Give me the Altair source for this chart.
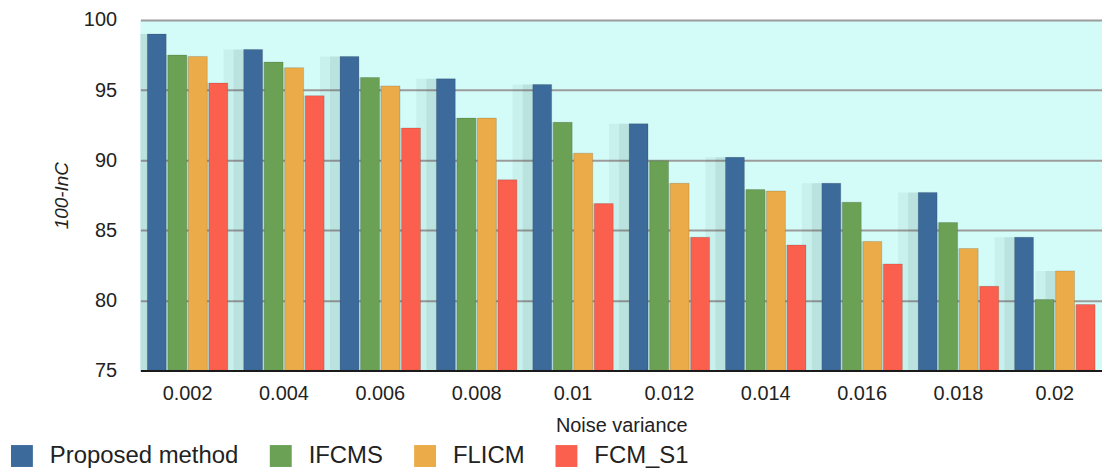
import altair as alt
import pandas as pd

variances = ["0.002", "0.004", "0.006", "0.008", "0.01", "0.012", "0.014", "0.016", "0.018", "0.02"]
methods = ["Proposed method", "IFCMS", "FLICM", "FCM_S1"]
proposed = [99.0, 97.9, 97.4, 95.8, 95.4, 92.6, 90.2, 88.35, 87.7, 84.5]
ifcms = [97.5, 97.0, 95.9, 93.0, 92.7, 89.95, 87.9, 87.0, 85.55, 80.05]
flicm = [97.4, 96.6, 95.3, 93.0, 90.5, 88.35, 87.8, 84.2, 83.7, 82.1]
fcm_s1 = [95.5, 94.6, 92.3, 88.6, 86.9, 84.5, 83.95, 82.6, 81.0, 79.7]
colors = ["#3c6a9b", "#6aa155", "#eaab48", "#fb5f4d"]
y_ticks = [75, 80, 85, 90, 95, 100]

rows = []
for m, vals in zip(methods, [proposed, ifcms, flicm, fcm_s1]):
    for v, val in zip(variances, vals):
        rows.append({"variance": v, "method": m, "value": val})
df = pd.DataFrame(rows)

FONT = "Liberation Sans"

x_enc = alt.X(
    "variance:N",
    sort=variances,
    scale=alt.Scale(paddingInner=0.165, paddingOuter=0.072),
    axis=alt.Axis(
        title="Noise variance",
        labelAngle=0,
        labelFontSize=20,
        labelPadding=13,
        labelColor="#222222",
        ticks=False,
        domain=True,
        domainColor="#1a1a1a",
        domainWidth=2,
        titleFontSize=20,
        titleFontWeight="normal",
        titleColor="#222222",
        titlePadding=12,
        zindex=1,
    ),
)
xo_enc = alt.XOffset("method:N", sort=methods, scale=alt.Scale(paddingInner=0.08, paddingOuter=0))
y_enc = alt.Y(
    "value:Q",
    scale=alt.Scale(domain=[75, 100], zero=False, clamp=True),
    axis=alt.Axis(
        values=y_ticks,
        title="100-InC",
        grid=True,
        gridColor="#9c9c9c",
        gridWidth=2,
        domain=False,
        ticks=False,
        labelFontSize=20,
        labelPadding=24,
        labelColor="#222222",
        titleFontSize=19,
        titleFontStyle="italic",
        titleFontWeight="normal",
        titleColor="#222222",
        titleX=-79,
        titleBaseline="middle",
    ),
)
color_enc = alt.Color(
    "method:N",
    sort=methods,
    scale=alt.Scale(domain=methods, range=colors),
    legend=alt.Legend(
        title=None,
        orient="none",
        direction="horizontal",
        legendX=-131,
        legendY=426,
        symbolType="square",
        symbolSize=484,
        symbolStrokeWidth=0,
        symbolOpacity=1,
        labelFontSize=24,
        labelLimit=0,
        labelColor="#222222",
        labelOffset=16,
        columnPadding=30,
        padding=0,
    ),
)

base = alt.Chart(df).encode(x=x_enc, xOffset=xo_enc, y=y_enc, y2=alt.datum(75))

shadow_wide = base.mark_bar(color="#1a4a48", opacity=0.06, width=alt.RelativeBandSize(1.5), clip=True)
shadow_mid = base.mark_bar(color="#1a4a48", opacity=0.08, width=alt.RelativeBandSize(1.25), clip=True)
bars = base.mark_bar(stroke="#00000022", strokeWidth=1).encode(color=color_enc)

chart = (
    alt.layer(shadow_wide, shadow_mid, bars)
    .properties(
        width=966,
        height=352,
        autosize=alt.AutoSizeParams(type="none"),
        padding={"left": 133, "top": 11, "right": 0, "bottom": 100},
    )
    .configure(font=FONT)
    .configure_view(fill="#d3fbf8", strokeWidth=0)
)

chart.save("out.html", embed_options={"renderer": "svg", "actions": False})
